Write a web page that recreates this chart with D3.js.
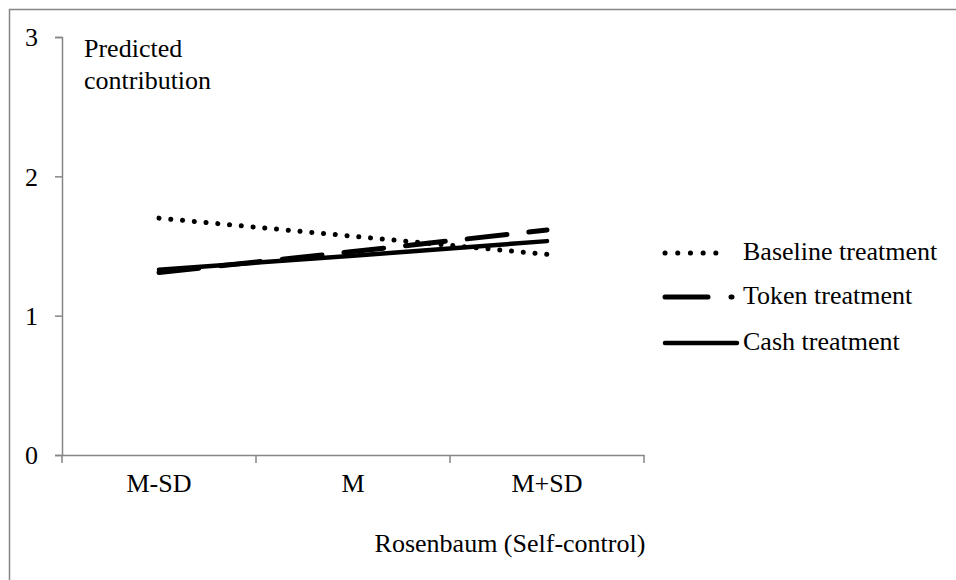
<!DOCTYPE html>
<html>
<head>
<meta charset="utf-8">
<script src="https://cdn.jsdelivr.net/npm/d3@7"></script>
<style>
  body { margin: 0; background: #fff; }
  svg text { font-family: "Liberation Serif", "Times New Roman", serif; fill: #000; }
</style>
</head>
<body>
<svg id="chart" width="956" height="580"></svg>
<script>
// values
const categories = ["M-SD", "M", "M+SD"];
const seriesNames = ["Baseline treatment", "Token treatment", "Cash treatment"];
const baseline = [1.70, 1.57, 1.44];
const token = [1.31, 1.46, 1.615];
const cash = [1.33, 1.43, 1.535];
const yTicks = [0, 1, 2, 3];

const svg = d3.select("#chart");
const fontSize = 26;

// outer frame of the chart area
svg.append("rect")
    .attr("x", 9.5).attr("y", 9.5)
    .attr("width", 1000).attr("height", 1000)
    .attr("fill", "none")
    .attr("stroke", "#868686")
    .attr("stroke-width", 1.5);

const plotLeft = 62, plotRight = 644, plotTop = 37, plotBottom = 455;

const x = d3.scaleBand().domain(categories).range([plotLeft, plotRight]);
const y = d3.scaleLinear().domain([0, 3]).range([plotBottom, plotTop]);

// y axis
const yAxis = svg.append("g")
    .attr("transform", `translate(${plotLeft},0)`)
    .call(d3.axisLeft(y).tickValues(yTicks).tickSize(7).tickPadding(17).tickFormat(d3.format("d")));
yAxis.selectAll("text").attr("font-size", fontSize).attr("dy", "0.34em");

// x axis
const xAxis = svg.append("g")
    .attr("transform", `translate(0,${plotBottom})`)
    .call(d3.axisBottom(x).tickSize(0).tickPadding(19));
xAxis.selectAll("text").attr("font-size", fontSize);

// category boundary ticks like the original
svg.append("g").selectAll("line")
    .data([plotLeft, ...categories.map(c => x(c) + x.bandwidth())])
    .join("line")
    .attr("x1", d => d).attr("x2", d => d)
    .attr("y1", plotBottom).attr("y2", plotBottom + 8);

svg.selectAll(".domain, g line")
    .attr("stroke", "#868686")
    .attr("stroke-width", 1.5);

// axis titles
svg.append("text").attr("x", 84).attr("y", 57).attr("font-size", fontSize).text("Predicted");
svg.append("text").attr("x", 84).attr("y", 89).attr("font-size", fontSize).text("contribution");
svg.append("text").attr("x", 510).attr("y", 552).attr("text-anchor", "middle")
    .attr("font-size", fontSize).text("Rosenbaum (Self-control)");

// series
const styles = [
    { width: 5, dash: "0.1 11.7" },
    { width: 5, dash: "40 22" },
    { width: 4.5, dash: null }
];
const seriesData = [baseline, token, cash];
const line = d3.line()
    .x((d, i) => x(categories[i]) + x.bandwidth() / 2)
    .y(d => y(d));

// draw cash first so dashed/dotted lines sit on top
[2, 1, 0].forEach(k => {
    svg.append("path")
        .datum(seriesData[k])
        .attr("d", line)
        .attr("fill", "none")
        .attr("stroke", "#000")
        .attr("stroke-width", styles[k].width)
        .attr("stroke-linecap", "round")
        .attr("stroke-dasharray", styles[k].dash);
});

// legend
const legendY = [253, 297, 343];
const legend = svg.append("g");
seriesNames.forEach((name, k) => {
    legend.append("line")
        .attr("x1", 665).attr("x2", k === 1 ? 732 : (k === 0 ? 728 : 737))
        .attr("y1", legendY[k]).attr("y2", legendY[k])
        .attr("stroke", "#000")
        .attr("stroke-width", styles[k].width)
        .attr("stroke-linecap", "round")
        .attr("stroke-dasharray", k === 0 ? "0.1 12.6" : (k === 1 ? "43 23" : null));
    legend.append("text")
        .attr("x", 743).attr("y", legendY[k] + 7)
        .attr("font-size", fontSize)
        .text(name);
});
</script>
</body>
</html>
